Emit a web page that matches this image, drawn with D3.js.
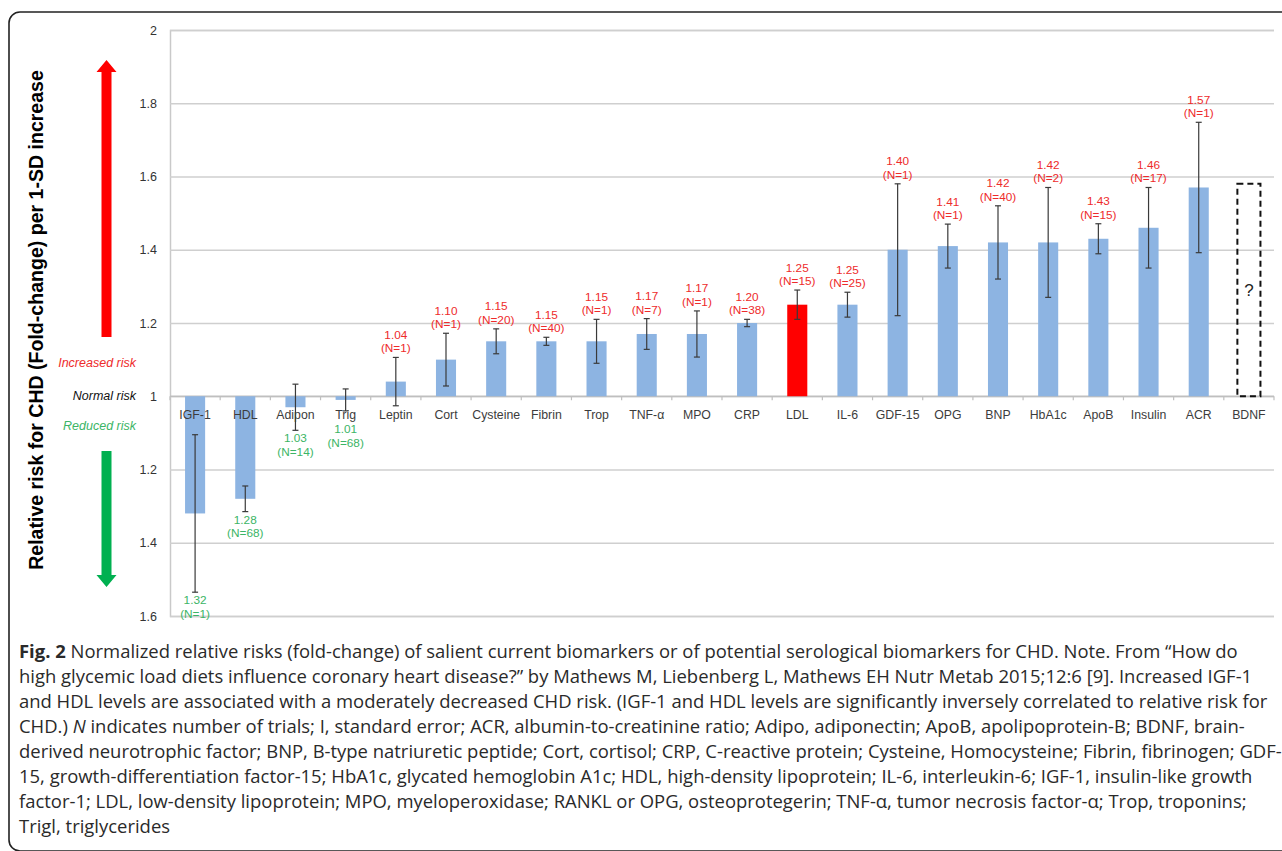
<!DOCTYPE html>
<html>
<head>
<meta charset="utf-8">
<script src="https://cdn.jsdelivr.net/npm/d3@7"></script>
<style>
  html, body { margin: 0; padding: 0; background: #fff; }
  svg { display: block; }
</style>
</head>
<body>
<svg id="chart" width="1282" height="851"></svg>
<script>
// ---------------- data ----------------
const categories = ["IGF-1","HDL","Adipon","Trig","Leptin","Cort","Cysteine","Fibrin","Trop","TNF-α","MPO","CRP","LDL","IL-6","GDF-15","OPG","BNP","HbA1c","ApoB","Insulin","ACR","BDNF"];
const foldChange = [1.32,1.28,1.03,1.01,1.04,1.10,1.15,1.15,1.15,1.17,1.17,1.20,1.25,1.25,1.40,1.41,1.42,1.42,1.43,1.46,1.57,null];
const riskDirection = [-1,-1,-1,-1,1,1,1,1,1,1,1,1,1,1,1,1,1,1,1,1,1,1];
const stdError = [0.215,0.035,0.063,0.03,0.066,0.072,0.034,0.011,0.06,0.042,0.063,0.01,0.04,0.034,0.18,0.06,0.10,0.15,0.041,0.11,0.178,null];
const trials = [1,68,14,68,1,1,20,40,1,7,1,38,15,25,1,1,40,2,15,17,1,null];
const highlighted = ["LDL"];
const unknownCategory = "BDNF";
const unknownUpperBound = 1.58;
const yTickDeviation = [1.0,0.8,0.6,0.4,0.2,0,-0.2,-0.4,-0.6];
const yTickLabels = ["2","1.8","1.6","1.4","1.2","1","1.2","1.4","1.6"];
const riskLabels = ["Increased risk","Normal risk","Reduced risk"];
const yAxisTitle = "Relative risk for CHD (Fold-change) per 1-SD increase";
const captionLines = [
  [["b","Fig. 2"],["n"," Normalized relative risks (fold-change) of salient current biomarkers or of potential serological biomarkers for CHD. Note. From \u201CHow do"]],
  [["n","high glycemic load diets influence coronary heart disease?\u201D by Mathews M, Liebenberg L, Mathews EH Nutr Metab 2015;12:6 [9]. Increased IGF-1"]],
  [["n","and HDL levels are associated with a moderately decreased CHD risk. (IGF-1 and HDL levels are significantly inversely correlated to relative risk for"]],
  [["n","CHD.) "],["i","N"],["n"," indicates number of trials; I, standard error; ACR, albumin-to-creatinine ratio; Adipo, adiponectin; ApoB, apolipoprotein-B; BDNF, brain-"]],
  [["n","derived neurotrophic factor; BNP, B-type natriuretic peptide; Cort, cortisol; CRP, C-reactive protein; Cysteine, Homocysteine; Fibrin, fibrinogen; GDF-"]],
  [["n","15, growth-differentiation factor-15; HbA1c, glycated hemoglobin A1c; HDL, high-density lipoprotein; IL-6, interleukin-6; IGF-1, insulin-like growth"]],
  [["n","factor-1; LDL, low-density lipoprotein; MPO, myeloperoxidase; RANKL or OPG, osteoprotegerin; TNF-\u03B1, tumor necrosis factor-\u03B1; Trop, troponins;"]],
  [["n","Trigl, triglycerides"]]
];

// ---------------- setup ----------------
const svg = d3.select("#chart");
const W = 1282, H = 851;
const plot = {left: 170, right: 1274, top: 30, bottom: 616};
const RED = "#ee2b2b", GREEN = "#3cb566", BAR = "#8db4e2";
const FONT = "'Liberation Sans', Arial, sans-serif";

svg.append("rect").attr("width", W).attr("height", H).attr("fill", "#fff");
// frame
svg.append("rect").attr("x", 9).attr("y", 12).attr("width", 1320).attr("height", 839)
  .attr("rx", 11).attr("fill", "none").attr("stroke", "#222").attr("stroke-width", 1.6);

const data = categories.map((c, i) => ({
  cat: c, fc: foldChange[i], dir: riskDirection[i], se: stdError[i], n: trials[i],
  dev: foldChange[i] == null ? null : riskDirection[i] * (foldChange[i] - 1)
}));

const x = d3.scaleBand().domain(categories).range([plot.left, plot.right]).paddingInner(0.6).paddingOuter(0.3);
const y = d3.scaleLinear().domain([-0.6, 1.0]).range([plot.bottom, plot.top]);

// y axis with gridlines
const yAxis = d3.axisLeft(y).tickValues(yTickDeviation)
  .tickFormat((d, i) => yTickLabels[i])
  .tickSize(-(plot.right - plot.left)).tickPadding(13);
const yg = svg.append("g").attr("transform", `translate(${plot.left},0)`).call(yAxis);
yg.select(".domain").attr("stroke", "#c9c9c9").attr("stroke-width", 1.5);
yg.selectAll(".tick line").attr("stroke", "#cfcfcf").attr("stroke-width", 1.5);
yg.selectAll(".tick text").attr("font-family", FONT).attr("font-size", 12.5).attr("fill", "#333");

// x axis baseline + ticks at band boundaries
const step = x.step();
const boundaries = categories.map(c => x(c) - step * x.paddingInner() / 2).concat([x(categories[categories.length - 1]) + x.bandwidth() + step * x.paddingInner() / 2]);
const y0 = y(0);
svg.append("line").attr("x1", plot.left).attr("x2", plot.right).attr("y1", y0).attr("y2", y0)
  .attr("stroke", "#bfbfbf").attr("stroke-width", 1.5);
svg.selectAll(".xtick").data(boundaries).join("line")
  .attr("x1", d => d).attr("x2", d => d).attr("y1", y0).attr("y2", y0 + 4)
  .attr("stroke", "#bfbfbf").attr("stroke-width", 1.2);

// bars
const known = data.filter(d => d.dev != null);
svg.selectAll(".bar").data(known).join("rect")
  .attr("x", d => x(d.cat)).attr("width", x.bandwidth())
  .attr("y", d => Math.min(y(d.dev), y0))
  .attr("height", d => Math.abs(y(d.dev) - y0))
  .attr("fill", d => highlighted.includes(d.cat) ? "#ff0000" : BAR);

// unknown BDNF box
const bw = x.bandwidth() + 3;
svg.append("rect")
  .attr("x", x(unknownCategory) + x.bandwidth() / 2 - bw / 2).attr("width", bw)
  .attr("y", y(unknownUpperBound - 1)).attr("height", y0 - y(unknownUpperBound - 1))
  .attr("fill", "none").attr("stroke", "#111").attr("stroke-width", 2).attr("stroke-dasharray", "6,4");
svg.append("text").attr("x", x(unknownCategory) + x.bandwidth() / 2).attr("y", (y0 + y(unknownUpperBound - 1)) / 2 + 6)
  .attr("text-anchor", "middle").attr("font-family", FONT).attr("font-size", 17).attr("fill", "#222").text("?");

// error bars
const eb = svg.append("g").attr("stroke", "#3a3a3a").attr("stroke-width", 1.2);
known.forEach(d => {
  const cx = x(d.cat) + x.bandwidth() / 2;
  const t = y(d.dev + d.se), b = y(d.dev - d.se);
  eb.append("line").attr("x1", cx).attr("x2", cx).attr("y1", t).attr("y2", b);
  eb.append("line").attr("x1", cx - 3).attr("x2", cx + 3).attr("y1", t).attr("y2", t);
  eb.append("line").attr("x1", cx - 3).attr("x2", cx + 3).attr("y1", b).attr("y2", b);
});

// category labels
svg.selectAll(".cat").data(categories).join("text")
  .attr("x", c => x(c) + x.bandwidth() / 2).attr("y", y0 + 23)
  .attr("text-anchor", "middle").attr("font-family", FONT).attr("font-size", 12.3).attr("fill", "#3c3c3c")
  .text(c => c);

// value labels
known.forEach(d => {
  const cx = x(d.cat) + x.bandwidth() / 2;
  const lines = [d.fc.toFixed(2), `(N=${d.n})`];
  const g = svg.append("text").attr("text-anchor", "middle").attr("font-family", FONT)
    .attr("font-size", 11.8).attr("fill", d.dir > 0 ? RED : GREEN);
  let firstBase;
  if (d.dir > 0) {
    firstBase = y(d.dev + d.se) - 5 - 13.5;
  } else {
    firstBase = Math.max(y(d.dev - d.se) + 12, y0 + 37);
  }
  lines.forEach((l, i) => g.append("tspan").attr("x", cx).attr("y", firstBase + i * 13.5).text(l));
});

// left risk labels
const riskY = [y(0.09), y(0), y(-0.08)];
const riskCol = [RED, "#111", GREEN];
riskLabels.forEach((t, i) => {
  svg.append("text").attr("x", 136).attr("y", riskY[i] + 4).attr("text-anchor", "end")
    .attr("font-family", FONT).attr("font-style", "italic").attr("font-size", 12.5)
    .attr("fill", riskCol[i]).text(t);
});

// arrows
function arrow(x0, yTail, yTip, color) {
  const dirS = yTip < yTail ? 1 : -1;
  const head = 12, hw = 10, sw = 5;
  const yh = yTip + dirS * head;
  const p = d3.path();
  p.moveTo(x0 - sw, yTail); p.lineTo(x0 - sw, yh); p.lineTo(x0 - hw, yh);
  p.lineTo(x0, yTip); p.lineTo(x0 + hw, yh); p.lineTo(x0 + sw, yh); p.lineTo(x0 + sw, yTail); p.closePath();
  svg.append("path").attr("d", p.toString()).attr("fill", color);
}
arrow(106.5, 337, 60, "#ff0000");
arrow(106.5, 451, 587, "#00b050");

// y axis title
const title = svg.append("text").attr("transform", `translate(43,320) rotate(-90)`)
  .attr("text-anchor", "middle").attr("font-family", FONT).attr("font-weight", "bold")
  .attr("font-size", 17).attr("fill", "#000").text(yAxisTitle);
const tl = title.node().getComputedTextLength();
title.attr("font-size", 17 * 500 / tl);

// caption
const CAPFONT = "'Open Sans', 'Noto Sans', sans-serif";
const capG = svg.append("g").attr("font-family", CAPFONT).attr("fill", "#2a2a2a");
const capTexts = captionLines.map((segs, li) => {
  const t = capG.append("text").attr("x", 19).attr("y", 658 + li * 25).attr("font-size", 16);
  segs.forEach(([k, s]) => {
    const ts = t.append("tspan").text(s);
    if (k === "b") ts.attr("font-weight", "bold");
    if (k === "i") ts.attr("font-style", "italic");
  });
  return t;
});
const measured = capTexts[2].node().getComputedTextLength();
const fs = 16 * (1268 - 19) / measured;
capTexts.forEach(t => t.attr("font-size", fs));
</script>
</body>
</html>
